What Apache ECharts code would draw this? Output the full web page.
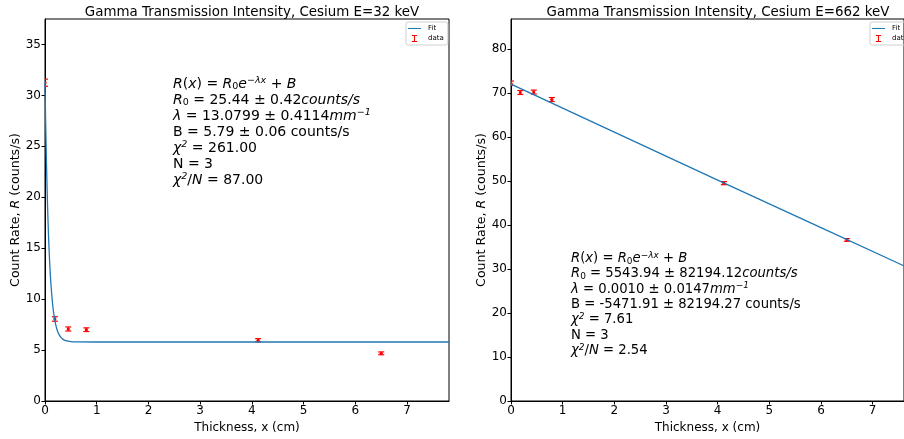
<!DOCTYPE html>
<html><head><meta charset="utf-8">
<script src="https://cdn.jsdelivr.net/npm/echarts@6/dist/echarts.min.js"></script>
<style>html,body{margin:0;padding:0;background:#fff}#c{width:904px;height:439px}</style>
</head><body><div id="c"></div>
<script>
// Left panel (E=32 keV): measured points [thickness cm, rate, error]
const lowX = [0, 0.19, 0.45, 0.80, 4.12, 6.50];
const lowY = [31.25, 8.05, 7.07, 7.00, 5.96, 4.68];
const lowErr = [0.35, 0.22, 0.2, 0.18, 0.16, 0.14];
// Left fit curve samples (R0 e^{-λx} + B)
const lowFitX = [0, 0.02, 0.04, 0.06, 0.08, 0.10, 0.12, 0.15, 0.18, 0.21, 0.25, 0.30, 0.35, 0.40, 0.50, 0.60, 1.0, 7.81];
const lowFitY = [31.23, 25.37, 20.87, 17.40, 14.72, 12.67, 11.09, 9.37, 8.21, 7.42, 6.76, 6.29, 6.05, 5.93, 5.83, 5.80, 5.79, 5.79];
// Right panel (E=662 keV)
const highX = [0, 0.18, 0.44, 0.79, 4.12, 6.50];
const highY = [72.2, 70.1, 70.2, 68.5, 49.5, 36.6];
const highErr = [0.5, 0.45, 0.45, 0.45, 0.35, 0.3];
const highFitX = [0, 2, 4, 6, 7.81];
const highFitY = [72.0, 61.1, 50.2, 39.4, 29.6];
const xTicks = [0, 1, 2, 3, 4, 5, 6, 7];

const titles = ['Gamma Transmission Intensity, Cesium E=32 keV', 'Gamma Transmission Intensity, Cesium E=662 keV'];
const annotLow = [
  '{i|R}({i|x}) = {i|R}{sub|0}{i|e}{sup|−λx} + {i|B}',
  '{i|R}{sub|0} = 25.44 ± 0.42{i|counts/s}',
  '{i|λ} = 13.0799 ± 0.4114{i|mm}{sup|−1}',
  'B = 5.79 ± 0.06 counts/s',
  '{i|χ}{sup|2} = 261.00',
  'N = 3',
  '{i|χ}{sup|2}/{i|N} = 87.00'
];
const annotHigh = [
  '{i|R}({i|x}) = {i|R}{sub|0}{i|e}{sup|−λx} + {i|B}',
  '{i|R}{sub|0} = 5543.94 ± 82194.12{i|counts/s}',
  '{i|λ} = 0.0010 ± 0.0147{i|mm}{sup|−1}',
  'B = -5471.91 ± 82194.27 counts/s',
  '{i|χ}{sup|2} = 7.61',
  'N = 3',
  '{i|χ}{sup|2}/{i|N} = 2.54'
];

const FONT = 'DejaVu Sans';
const zip = (a, b) => a.map((v, i) => [v, b[i]]);
const zip3 = (a, b, c) => a.map((v, i) => [v, b[i], c[i]]);

function errRender(params, api) {
  const x = api.value(0), y = api.value(1), e = api.value(2);
  const top = api.coord([x, y + e]);
  const bot = api.coord([x, y - e]);
  const mid = api.coord([x, y]);
  const cw = 3;
  const st = { stroke: '#ff0000', lineWidth: 1.2 };
  return {
    type: 'group',
    children: [
      { type: 'line', shape: { x1: top[0], y1: top[1], x2: bot[0], y2: bot[1] }, style: st },
      { type: 'line', shape: { x1: top[0] - cw, y1: top[1], x2: top[0] + cw, y2: top[1] }, style: st },
      { type: 'line', shape: { x1: bot[0] - cw, y1: bot[1], x2: bot[0] + cw, y2: bot[1] }, style: st },
      { type: 'circle', shape: { cx: mid[0], cy: mid[1], r: 1.6 }, style: { fill: '#ff0000' } }
    ]
  };
}

// right panel is cut by the figure edge: its axes run to x≈7.6 at the canvas border
const grids = [
  { left: 45, top: 19, width: 404, height: 382 },
  { left: 511, top: 19, width: 393, height: 382 }
];
const xMax = [7.81, 7.606];
const yMax = [37.5, 86.8];
const yInt = [5, 10];

function rich(fs, lh) {
  const s = fs * 0.68;
  return {
    i: { fontFamily: FONT, fontStyle: 'italic', fontSize: fs, lineHeight: lh, color: '#000' },
    sup: { fontFamily: FONT, fontStyle: 'italic', fontSize: s, lineHeight: 10, verticalAlign: 'top', color: '#000' },
    sub: { fontFamily: FONT, fontSize: s, lineHeight: 10, verticalAlign: 'bottom', color: '#000' }
  };
}

const option = {
  backgroundColor: '#fff',
  animation: false,
  title: titles.map((t, k) => ({
    text: t, left: [247, 713][k], top: 1, textAlign: 'center',
    textStyle: { fontFamily: FONT, fontSize: 13.4, fontWeight: 'normal', color: '#000' }
  })),
  legend: [0, 1].map(k => ({
    left: k === 0 ? 406 : 870, top: 22, orient: 'vertical',
    data: [
      { name: 'Fit', icon: 'path://M0,0 H20 V1.6 H0 Z', itemStyle: { color: '#1f77b4' } },
      { name: 'data', icon: 'path://M0,0 H6 V1.2 H3.6 V6.8 H6 V8 H0 V6.8 H2.4 V1.2 H0 Z', itemStyle: { color: '#ff0000' } }
    ],
    itemWidth: 13, itemHeight: 7, itemGap: 3, padding: [3, 4, 3, 2],
    borderColor: '#d0d0d0', borderWidth: 1, borderRadius: 2,
    textStyle: { fontFamily: FONT, fontSize: 7, color: '#000', padding: [0, 0, 0, 2] },
    selectedMode: false
  })),
  grid: grids.map((g, k) => Object.assign({ show: true, borderColor: '#000', borderWidth: 1, backgroundColor: 'transparent', outerBoundsMode: 'none' }, g)),
  xAxis: [0, 1].map(k => ({
    type: 'value', gridIndex: k, min: 0, max: xMax[k], interval: 1,
    name: 'Thickness, x (cm)', nameLocation: 'middle', nameGap: 19,
    nameTextStyle: { fontFamily: FONT, fontSize: 12, color: '#000' },
    axisLine: { show: true, onZero: false, lineStyle: { color: '#000', width: 1 } },
    axisTick: { show: true, length: 3.5, lineStyle: { color: '#000' } },
    axisLabel: { fontFamily: FONT, fontSize: 12, color: '#000', margin: 4, showMaxLabel: false,
      formatter: v => (xTicks.indexOf(v) >= 0 ? String(v) : '') },
    splitLine: { show: false }
  })),
  yAxis: [0, 1].map(k => ({
    type: 'value', gridIndex: k, min: 0, max: yMax[k], interval: yInt[k],
    name: 'Count Rate, {i|R} (counts/s)', nameLocation: 'middle', nameGap: k === 0 ? 21 : 22, nameRotate: 90,
    nameTextStyle: { fontFamily: FONT, fontSize: 12.6, color: '#000',
      rich: { i: { fontFamily: FONT, fontSize: 12.6, fontStyle: 'italic', color: '#000' } } },
    axisLine: { show: true, onZero: false, lineStyle: { color: '#000', width: 1 } },
    axisTick: { show: true, length: 3.5, lineStyle: { color: '#000' } },
    axisLabel: { fontFamily: FONT, fontSize: 12, color: '#000', margin: 4, showMaxLabel: false },
    splitLine: { show: false }
  })),
  series: [
    { name: 'Fit', type: 'line', xAxisIndex: 0, yAxisIndex: 0, data: zip(lowFitX, lowFitY), smooth: 0.3,
      symbol: 'none', lineStyle: { color: '#1f77b4', width: 1.3 }, itemStyle: { color: '#1f77b4' }, clip: true },
    { name: 'data', type: 'custom', xAxisIndex: 0, yAxisIndex: 0, data: zip3(lowX, lowY, lowErr),
      renderItem: errRender, itemStyle: { color: '#ff0000' }, clip: true, encode: { x: 0, y: 1 } },
    { name: 'Fit', type: 'line', xAxisIndex: 1, yAxisIndex: 1, data: zip(highFitX, highFitY),
      symbol: 'none', lineStyle: { color: '#1f77b4', width: 1.3 }, itemStyle: { color: '#1f77b4' }, clip: true },
    { name: 'data', type: 'custom', xAxisIndex: 1, yAxisIndex: 1, data: zip3(highX, highY, highErr),
      renderItem: errRender, itemStyle: { color: '#ff0000' }, clip: true, encode: { x: 0, y: 1 } }
  ],
  graphic: [
    { type: 'text', left: 173, top: 76, style: { text: annotLow.join('\n'), fontFamily: FONT, fontSize: 14, lineHeight: 16, fill: '#000', rich: rich(14, 16) } },
    { type: 'text', left: 571, top: 251, style: { text: annotHigh.join('\n'), fontFamily: FONT, fontSize: 13.2, lineHeight: 15.3, fill: '#000', rich: rich(13.2, 15.3) } }
  ]
};
const chart = echarts.init(document.getElementById('c'), null, { renderer: 'canvas' });
chart.setOption(option);
</script></body></html>
